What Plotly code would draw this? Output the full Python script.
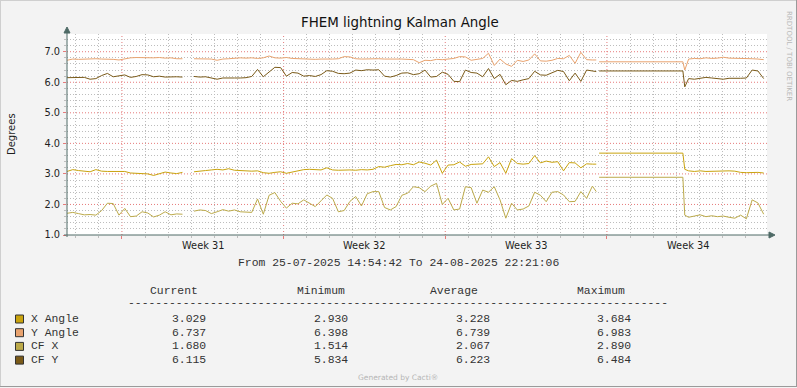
import pandas as pd
import plotly.graph_objects as go

# ---------------- data ----------------
START = pd.Timestamp("2025-07-25 14:54:42")
END = pd.Timestamp("2025-08-24 22:21:06")

# sample times in hours after START (6-hour samples, plus the stale stretch before Week 34)
sample_hours = list(range(0, 547, 6)) + [550, 551, 553, 640, 642] + list(range(646, 725, 6))

x_angle = [
    3.08, 3.14, 3.11, 3.08, 3.07, 3.14, 3.09, 3.08, 3.08, 3.09,
    3.08, 3.03, 3.02, 3.02, 3.00, 2.95, 3.01, 3.06, 3.03, 3.01,
    3.05, None, 3.07, 3.10, 3.11, 3.13, 3.15, 3.13, 3.17, 3.12,
    3.10, 3.10, 3.09, 3.10, 3.04, 3.02, 3.05, 3.07, 3.02, 3.06,
    3.09, 3.14, 3.15, 3.13, 3.13, 3.20, 3.13, 3.12, 3.13, 3.13,
    3.12, 3.14, 3.13, 3.15, 3.24, 3.22, 3.27, 3.31, 3.30, 3.34,
    3.30, 3.39, 3.35, 3.29, 3.45, 3.02, 3.29, 3.30, 3.39, 3.25,
    3.31, 3.32, 3.33, 3.56, 3.24, 3.37, 3.02, 3.50, 3.34, 3.32,
    3.34, 3.60, 3.36, 3.42, 3.38, 3.40, 3.10, 3.37, 3.36, 3.20, 3.33, 3.32,
    3.32, None, 3.68, 3.68, 3.15,
    3.10, 3.08, 3.10, 3.08, 3.09, 3.08, 3.09, 3.10, 3.09, 3.05, 3.04, 3.05, 3.05, 3.03,
]

y_angle = [
    6.72, 6.76, 6.75, 6.76, 6.76, 6.77, 6.76, 6.76, 6.75, 6.73,
    6.77, 6.80, 6.81, 6.80, 6.81, 6.80, 6.81, 6.79, 6.80, 6.77,
    6.77, None, 6.77, 6.77, 6.78, 6.76, 6.72, 6.76, 6.77, 6.79,
    6.80, 6.79, 6.80, 6.78, 6.80, 6.86, 6.80, 6.79, 6.81, 6.78,
    6.77, 6.76, 6.77, 6.75, 6.76, 6.75, 6.76, 6.77, 6.84, 6.83,
    6.77, 6.76, 6.77, 6.76, 6.77, 6.76, 6.77, 6.76, 6.76, 6.75,
    6.74, 6.64, 6.72, 6.71, 6.75, 6.74, 6.76, 6.78, 6.84, 6.83,
    6.72, 6.75, 6.78, 6.95, 6.55, 6.76, 6.60, 6.52, 6.72, 6.68,
    6.73, 6.93, 6.70, 6.69, 6.72, 6.78, 6.77, 6.88, 6.62, 6.98, 6.74, 6.73,
    6.73, None, 6.67, 6.67, 6.40,
    6.76, 6.78, 6.77, 6.80, 6.78, 6.79, 6.82, 6.79, 6.79, 6.77, 6.78, 6.77, 6.76, 6.74,
]

cf_x = [
    1.71, 1.74, 1.70, 1.66, 1.67, 1.65, 1.80, 2.04, 2.03, 1.65,
    1.87, 1.60, 1.62, 1.76, 1.72, 1.59, 1.65, 1.76, 1.66, 1.69,
    1.68, None, 1.78, 1.82, 1.80, 1.70, 1.76, 1.83, 1.78, 1.82,
    1.76, 1.75, 1.74, 2.18, 1.68, 2.30, 2.39, 2.10, 1.88, 2.04,
    2.02, 2.15, 2.05, 1.93, 2.12, 2.31, 2.20, 1.76, 1.80, 2.10,
    2.26, 1.95, 2.35, 2.42, 2.42, 1.90, 1.82, 1.93, 2.30, 2.37,
    2.58, 2.55, 2.42, 2.60, 2.69, 2.00, 2.20, 1.82, 1.85, 2.58,
    2.55, 2.04, 2.47, 2.40, 2.58, 2.15, 1.55, 2.04, 1.82, 1.85,
    1.95, 2.40, 2.30, 2.09, 2.40, 2.42, 2.31, 2.09, 2.10, 2.42, 2.20, 2.60,
    2.42, None, 2.89, 2.89, 1.65,
    1.58, 1.62, 1.66, 1.60, 1.63, 1.60, 1.62, 1.58, 1.55, 1.65, 1.53, 2.15, 2.05, 1.68,
]

cf_y = [
    6.15, 6.16, 6.15, 6.16, 6.10, 6.12, 6.22, 6.29, 6.18, 6.22,
    6.24, 6.16, 6.19, 6.25, 6.24, 6.18, 6.20, 6.17, 6.18, 6.18,
    6.17, None, 6.19, 6.17, 6.18, 6.15, 6.10, 6.14, 6.13, 6.14,
    6.14, 6.15, 6.19, 6.42, 6.18, 6.33, 6.49, 6.48, 6.20, 6.32,
    6.30, 6.20, 6.22, 6.19, 6.25, 6.38, 6.36, 6.29, 6.28, 6.30,
    6.40, 6.38, 6.41, 6.40, 6.41, 6.20, 6.17, 6.22, 6.30, 6.31,
    6.25, 6.28, 6.40, 6.17, 6.19, 6.33, 6.26, 6.03, 6.02, 6.40,
    6.32, 6.30, 6.18, 6.45, 6.12, 6.26, 5.92, 6.06, 6.03, 6.08,
    6.12, 6.36, 6.24, 6.23, 6.31, 6.39, 6.35, 6.05, 6.30, 6.03, 6.40, 6.36,
    6.35, None, 6.37, 6.37, 5.85,
    6.12, 6.10, 6.13, 6.16, 6.14, 6.12, 6.10, 6.13, 6.12, 6.13, 6.14, 6.40, 6.37, 6.12,
]

series_names = ["X Angle", "Y Angle", "CF X", "CF Y"]
series_values = [x_angle, y_angle, cf_x, cf_y]
series_colors = ["#C9A30E", "#E9A36F", "#BCAA4A", "#7A5A18"]

stat_headers = ["Current", "Minimum", "Average", "Maximum"]
stat_current = ["3.029", "6.737", "1.680", "6.115"]
stat_minimum = ["2.930", "6.398", "1.514", "5.834"]
stat_average = ["3.228", "6.739", "2.067", "6.223"]
stat_maximum = ["3.684", "6.983", "2.890", "6.484"]

week_labels = ["Week 31", "Week 32", "Week 33", "Week 34"]
first_monday = "2025-07-28"
y_major = [2, 3, 4, 5, 6, 7]

# ---------------- layout helpers ----------------
W, H = 797, 388
L, R, T, B = 67, 767, 34, 235          # plot area in pixels


def fx(px):
    return (px - L) / (R - L)


def fy(py):
    return (B - py) / (B - T)


times = START + pd.to_timedelta(sample_hours, unit="h")
week_starts = [pd.Timestamp(first_monday) + pd.Timedelta(days=7 * k)
               for k in range(len(week_labels))]
week_centers = [ws + pd.Timedelta(hours=84) for ws in week_starts]

SANS = "DejaVu Sans"
MONO = "Liberation Mono"
MONO_SIZE = 11.4

fig = go.Figure()
for name, vals, col in zip(series_names, series_values, series_colors):
    fig.add_trace(go.Scatter(
        x=times, y=vals, name=name, mode="lines",
        line=dict(color=col, width=1), connectgaps=False,
        showlegend=False, hoverinfo="skip",
    ))

RED_GRID = "#E67A7A"
GRAY_GRID = "#BDBDBD"
AXIS_COL = "#4E6A66"
DOTS = "1px,2px"
DAY_MS = 86400000

fig.update_layout(
    width=W, height=H,
    margin=dict(l=L, r=W - R, t=T, b=H - B, pad=0),
    paper_bgcolor="#F3F3F3",
    plot_bgcolor="#FFFFFF",
    showlegend=False,
    xaxis=dict(
        type="date", range=[START, END],
        tickmode="linear", tick0=first_monday, dtick=7 * DAY_MS,
        showticklabels=False, showgrid=False,
        ticks="outside", ticklen=3, tickcolor=RED_GRID,
        minor=dict(tickmode="linear", tick0=first_monday, dtick=DAY_MS, showgrid=True,
                   gridcolor=GRAY_GRID, griddash=DOTS, gridwidth=1,
                   ticks="outside", ticklen=2, tickcolor=GRAY_GRID),
        showline=False, zeroline=False, fixedrange=True,
    ),
    yaxis=dict(
        range=[1.0, 7.58], tickmode="linear", dtick=1, tick0=0, tickformat=".1f",
        showgrid=False,
        ticks="outside", ticklen=3, tickcolor=RED_GRID,
        ticklabelstandoff=1,
        tickfont=dict(family=SANS, size=9.8, color="#1E1E1E"),
        minor=dict(tickmode="linear", tick0=0, dtick=0.2, showgrid=True, gridcolor=GRAY_GRID,
                   griddash=DOTS, gridwidth=1,
                   ticks="outside", ticklen=2, tickcolor=GRAY_GRID),
        showline=False, zeroline=False, fixedrange=True,
    ),
)

shapes = []
# major (red dotted) grid lines: week starts and whole degrees
for ws in week_starts:
    shapes.append(dict(type="line", xref="x", yref="paper", x0=ws, x1=ws, y0=0, y1=1,
                       line=dict(color=RED_GRID, width=1, dash=DOTS), layer="between"))
for yv in y_major:
    shapes.append(dict(type="line", xref="paper", yref="y", x0=0, x1=1, y0=yv, y1=yv,
                       line=dict(color=RED_GRID, width=1, dash=DOTS), layer="between"))
# axis lines with arrow heads
shapes.append(dict(type="line", xref="paper", yref="paper",
                   x0=fx(67), x1=fx(67), y0=fy(237), y1=fy(30),
                   line=dict(color=AXIS_COL, width=1), layer="above"))
shapes.append(dict(type="line", xref="paper", yref="paper",
                   x0=fx(64), x1=fx(771), y0=fy(235), y1=fy(235),
                   line=dict(color=AXIS_COL, width=1), layer="above"))
shapes.append(dict(type="path", xref="paper", yref="paper",
                   path=f"M {fx(64)},{fy(33)} L {fx(70)},{fy(33)} L {fx(67)},{fy(27)} Z",
                   fillcolor=AXIS_COL, line=dict(color=AXIS_COL, width=1), layer="above"))
shapes.append(dict(type="path", xref="paper", yref="paper",
                   path=f"M {fx(769)},{fy(232)} L {fx(769)},{fy(238)} L {fx(775)},{fy(235)} Z",
                   fillcolor=AXIS_COL, line=dict(color=AXIS_COL, width=1), layer="above"))
# image border
shapes.append(dict(type="line", xref="paper", yref="paper", x0=fx(0.5), x1=fx(0.5),
                   y0=fy(0), y1=fy(387), line=dict(color="#CFCFCF", width=1)))
shapes.append(dict(type="line", xref="paper", yref="paper", x0=fx(0), x1=fx(797),
                   y0=fy(0.5), y1=fy(0.5), line=dict(color="#CFCFCF", width=1)))
shapes.append(dict(type="line", xref="paper", yref="paper", x0=fx(796.5), x1=fx(796.5),
                   y0=fy(0), y1=fy(387), line=dict(color="#9A9A9A", width=1)))
shapes.append(dict(type="line", xref="paper", yref="paper", x0=fx(0), x1=fx(797),
                   y0=fy(386.5), y1=fy(386.5), line=dict(color="#9A9A9A", width=1)))

annotations = []


def ann(text, px, py, size, family=SANS, color="#1E1E1E", xanchor="center",
        yanchor="middle", angle=0, xref="paper", x=None):
    annotations.append(dict(
        text=text, xref=xref, yref="paper",
        x=fx(px) if x is None else x, y=fy(py),
        xanchor=xanchor, yanchor=yanchor, showarrow=False, textangle=angle,
        font=dict(family=family, size=size, color=color), borderpad=0,
    ))


ann("FHEM lightning Kalman Angle", 400, 23, 13.4, color="#111111")
ann("Degrees", 11, 134, 10, angle=-90)
ann("RRDTOOL / TOBI OETIKER", 789, 56, 7, color="#B8B8B8", angle=90)
for wl, wc in zip(week_labels, week_centers):
    ann(wl, 0, 245, 9.8, xref="x", x=wc)

ann(f"From {START.strftime('%d-%m-%Y %H:%M:%S')} To {END.strftime('%d-%m-%Y %H:%M:%S')}",
    398, 263, MONO_SIZE, family=MONO, color="#333333")

header_x = [149, 296, 429, 576]
for hx, ht in zip(header_x, stat_headers):
    ann(ht, hx, 291, MONO_SIZE, family=MONO, color="#333333", xanchor="left")
ann("-" * 79, 127, 303, MONO_SIZE, family=MONO, color="#333333", xanchor="left")

row_y = [319, 332.7, 346.4, 360.1]
value_right = [207, 349, 491, 632]
for k, (name, col) in enumerate(zip(series_names, series_colors)):
    yy = row_y[k]
    shapes.append(dict(type="rect", xref="paper", yref="paper",
                       x0=fx(15.5), x1=fx(23.5), y0=fy(yy - 4), y1=fy(yy + 4),
                       fillcolor=col, line=dict(color="#333333", width=1)))
    ann(name, 30, yy, MONO_SIZE, family=MONO, color="#333333", xanchor="left")
    for vx, vals in zip(value_right, [stat_current, stat_minimum, stat_average, stat_maximum]):
        ann(vals[k], vx, yy, MONO_SIZE, family=MONO, color="#333333", xanchor="right")

ann("Generated by Cacti®", 398, 377, 7.5, color="#B5B5B5")

fig.update_layout(shapes=shapes, annotations=annotations)
fig.write_html(
    "out.html",
    config={"displayModeBar": False, "staticPlot": True},
    post_script="document.body.style.margin='0';document.body.style.overflow='hidden';",
)
